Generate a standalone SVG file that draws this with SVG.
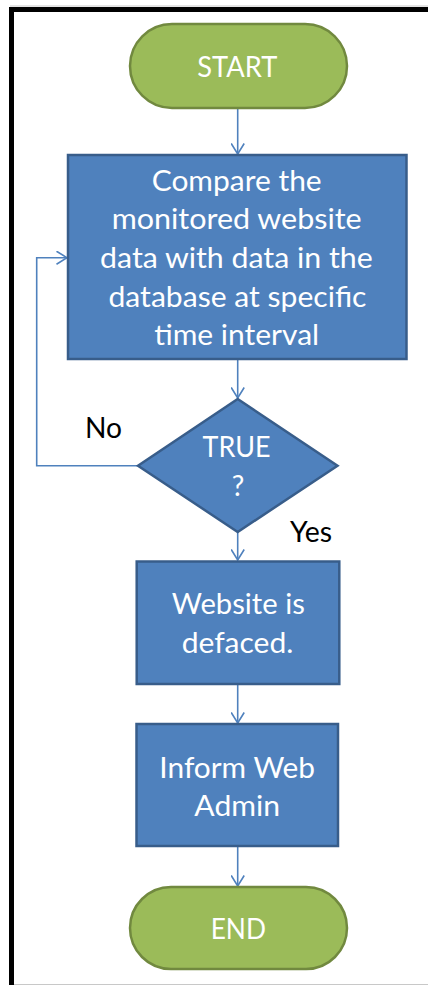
<svg xmlns="http://www.w3.org/2000/svg" width="428" height="985" viewBox="0 0 428 985">
  <style>
    .term { fill: #9BBB59; stroke: #71893F; stroke-width: 2.5; }
    .proc { fill: #4F81BD; stroke: #385D8A; stroke-width: 2.5; }
    .lbl  { font-family: Lato, "Open Sans", "Liberation Sans", sans-serif; font-size: 28px; fill: #FFFFFF; text-anchor: middle; }
    .edge { font-family: Lato, "Open Sans", "Liberation Sans", sans-serif; font-size: 28px; fill: #000000; }
    .conn { fill: none; stroke: #4F81BD; stroke-width: 1.6; }
  </style>
  <defs>
    <marker id="arrow" viewBox="0 0 12 14" refX="11" refY="7" markerWidth="12" markerHeight="14" markerUnits="userSpaceOnUse" orient="auto">
      <path d="M0.5,0.5 L11,7 L0.5,13.5" fill="none" stroke="#4F81BD" stroke-width="1.6"/>
    </marker>
  </defs>

  <rect width="428" height="985" fill="#FFFFFF"/>

  <!-- page frame -->
  <g id="frame">
    <line x1="10" y1="6" x2="428" y2="6" stroke="#C8C8C8" stroke-width="1"/>
    <line x1="14" y1="984.5" x2="428" y2="984.5" stroke="#C8C8C8" stroke-width="1.2"/>
    <path d="M11.5,985 V9.5 H428" fill="none" stroke="#000000" stroke-width="5"/>
  </g>

  <!-- connectors -->
  <g id="connectors">
    <line class="conn" x1="237.7" y1="108" x2="237.7" y2="154" marker-end="url(#arrow)"/>
    <line class="conn" x1="237.7" y1="359" x2="237.7" y2="398" marker-end="url(#arrow)"/>
    <line class="conn" x1="237.7" y1="532" x2="237.7" y2="560" marker-end="url(#arrow)"/>
    <line class="conn" x1="237.7" y1="684" x2="237.7" y2="723" marker-end="url(#arrow)"/>
    <line class="conn" x1="237.7" y1="846" x2="237.7" y2="886" marker-end="url(#arrow)"/>
    <polyline class="conn" points="138,465.7 36.7,465.7 36.7,257.7 67,257.7" marker-end="url(#arrow)"/>
    <text class="edge" x="85" y="438" textLength="37" lengthAdjust="spacingAndGlyphs">No</text>
    <text class="edge" x="290" y="541.5" textLength="42" lengthAdjust="spacingAndGlyphs">Yes</text>
  </g>

  <g id="start">
    <rect class="term" x="130" y="24" width="217" height="84" rx="42" ry="42"/>
    <text class="lbl" x="237.3" y="77.3" textLength="80" lengthAdjust="spacingAndGlyphs">START</text>
  </g>

  <g id="compare">
    <rect class="proc" x="68" y="155" width="338.5" height="204"/>
    <text class="lbl" x="236.7" y="190.7" textLength="170" lengthAdjust="spacingAndGlyphs">Compare the</text>
    <text class="lbl" x="236.7" y="229.3" textLength="250" lengthAdjust="spacingAndGlyphs">monitored website</text>
    <text class="lbl" x="236.4" y="268" textLength="272.7" lengthAdjust="spacingAndGlyphs">data with data in the</text>
    <text class="lbl" x="237.5" y="306.7" textLength="258" lengthAdjust="spacingAndGlyphs">database at specific</text>
    <text class="lbl" x="236.7" y="345.3" textLength="165" lengthAdjust="spacingAndGlyphs">time interval</text>
  </g>

  <g id="decision">
    <polygon class="proc" points="237.7,399 337.5,465.7 237.7,532 138,465.7"/>
    <text class="lbl" x="236.5" y="457.3" textLength="68" lengthAdjust="spacingAndGlyphs">TRUE</text>
    <text class="lbl" x="238" y="496">?</text>
  </g>

  <g id="defaced">
    <rect class="proc" x="136.7" y="561.5" width="202.6" height="122.5"/>
    <text class="lbl" x="238.3" y="614" textLength="133" lengthAdjust="spacingAndGlyphs">Website is</text>
    <text class="lbl" x="237.5" y="652.7" textLength="111.7" lengthAdjust="spacingAndGlyphs">defaced.</text>
  </g>

  <g id="inform">
    <rect class="proc" x="136.5" y="724" width="201.5" height="122"/>
    <text class="lbl" x="237.2" y="777.7" textLength="155.7" lengthAdjust="spacingAndGlyphs">Inform Web</text>
    <text class="lbl" x="237.2" y="815.7" textLength="85.7" lengthAdjust="spacingAndGlyphs">Admin</text>
  </g>

  <g id="end">
    <rect class="term" x="130" y="887" width="217" height="82" rx="41" ry="41"/>
    <text class="lbl" x="238.3" y="939" textLength="55.3" lengthAdjust="spacingAndGlyphs">END</text>
  </g>
</svg>
